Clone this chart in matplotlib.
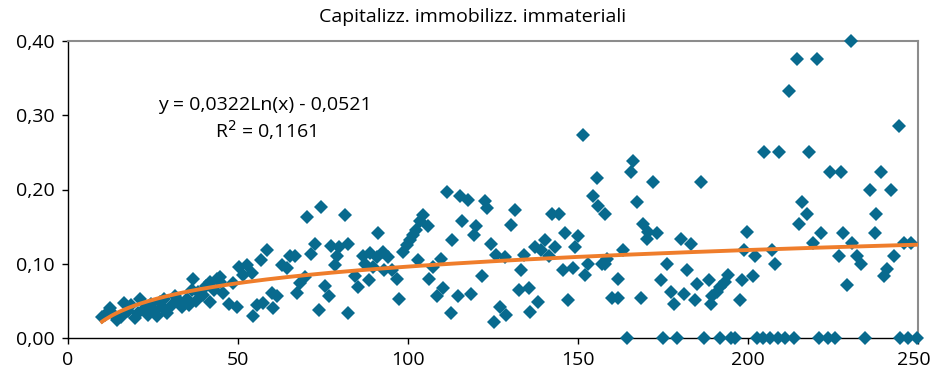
import numpy as np
import matplotlib.pyplot as plt
from matplotlib.ticker import FuncFormatter
from matplotlib.transforms import ScaledTranslation

title = 'Capitalizz. immobilizz. immateriali'

# scatter values
x_vals = [
    10.0, 10.9, 12.4, 13.0, 14.3, 15.5, 16.6, 17.7, 18.5, 19.7, 20.5, 21.2, 22.6, 23.6,
    24.5, 25.6, 26.3, 27.0, 27.6, 28.3, 29.0, 30.5, 31.5, 32.4, 33.6, 34.9, 35.5, 36.4,
    36.9, 37.5, 38.3, 39.8, 40.5, 41.8, 41.8, 42.8, 43.7, 44.7, 44.7, 45.7, 47.4, 48.6,
    49.6, 50.4, 51.4, 52.7, 54.0, 54.5, 55.5, 56.8, 57.4, 58.4, 59.9, 60.4, 61.4, 62.8,
    64.3, 65.3, 66.8, 67.3, 68.2, 69.7, 70.2, 71.4, 72.6, 73.8, 74.4, 75.6, 76.9, 77.3,
    78.5, 79.0, 79.8, 81.6, 82.4, 82.5, 84.4, 85.4, 86.9, 87.4, 88.5, 88.8, 89.8, 90.8,
    91.3, 92.7, 93.0, 94.2, 95.2, 96.7, 97.4, 98.6, 99.6, 100.6, 101.6, 102.5, 102.8, 103.5,
    104.5, 106.0, 106.2, 107.5, 108.4, 109.7, 110.4, 111.4, 112.6, 113.0, 114.6, 115.3, 116.0, 117.6,
    118.4, 119.4, 120.0, 121.7, 122.6, 123.3, 124.3, 125.3, 125.9, 127.1, 128.5, 128.8, 130.2, 131.5,
    132.5, 133.2, 134.1, 135.7, 135.9, 137.4, 138.3, 139.0, 140.3, 141.6, 142.3, 143.2, 144.5, 145.5,
    146.2, 147.2, 148.6, 149.1, 150.1, 151.4, 152.1, 153.0, 154.3, 155.5, 156.0, 157.0, 158.0, 158.0,
    158.4, 160.1, 161.7, 161.9, 163.3, 164.3, 165.6, 166.2, 167.3, 168.5, 169.0, 170.2, 170.7, 172.0,
    173.1, 174.4, 174.9, 176.1, 177.4, 178.3, 179.0, 180.2, 181.3, 182.0, 183.2, 184.4, 184.9, 186.1,
    187.2, 188.5, 189.1, 189.5, 190.8, 191.8, 191.8, 193.2, 194.2, 195.0, 196.2, 197.6, 198.1, 198.8,
    199.6, 201.5, 202.0, 202.6, 204.5, 204.8, 206.5, 207.2, 208.0, 208.8, 209.1, 211.0, 212.0, 213.4,
    214.4, 215.0, 216.0, 217.3, 217.8, 219.0, 220.2, 221.0, 221.4, 223.5, 224.2, 225.5, 226.7, 227.4,
    227.8, 229.0, 230.2, 230.7, 232.0, 233.1, 234.4, 236.0, 237.3, 237.7, 239.0, 240.0, 240.8, 242.0,
    243.0, 244.3, 244.7, 246.0, 247.0, 248.0, 249.7,
]
y_vals = [
    0.028, 0.031, 0.040, 0.033, 0.024, 0.028, 0.047, 0.036, 0.045, 0.027, 0.033, 0.053, 0.040, 0.031,
    0.046, 0.036, 0.030, 0.049, 0.042, 0.052, 0.033, 0.044, 0.056, 0.051, 0.042, 0.053, 0.045, 0.065,
    0.080, 0.050, 0.062, 0.058, 0.070, 0.048, 0.076, 0.064, 0.080, 0.076, 0.082, 0.060, 0.046, 0.074,
    0.042, 0.096, 0.085, 0.098, 0.087, 0.030, 0.044, 0.105, 0.047, 0.119, 0.060, 0.040, 0.056, 0.098,
    0.094, 0.110, 0.110, 0.061, 0.074, 0.082, 0.163, 0.113, 0.127, 0.038, 0.177, 0.070, 0.056, 0.124,
    0.098, 0.110, 0.123, 0.166, 0.127, 0.034, 0.083, 0.069, 0.110, 0.100, 0.078, 0.114, 0.096, 0.109,
    0.142, 0.116, 0.092, 0.109, 0.092, 0.080, 0.053, 0.116, 0.125, 0.132, 0.139, 0.145, 0.105, 0.157,
    0.165, 0.151, 0.080, 0.096, 0.057, 0.107, 0.067, 0.196, 0.033, 0.132, 0.057, 0.191, 0.157, 0.186,
    0.059, 0.139, 0.151, 0.083, 0.185, 0.175, 0.126, 0.022, 0.112, 0.042, 0.109, 0.031, 0.152, 0.172,
    0.065, 0.092, 0.112, 0.067, 0.035, 0.122, 0.049, 0.119, 0.132, 0.110, 0.167, 0.122, 0.167, 0.092,
    0.142, 0.051, 0.094, 0.122, 0.137, 0.274, 0.085, 0.100, 0.191, 0.215, 0.178, 0.099, 0.167, 0.100,
    0.107, 0.054, 0.054, 0.080, 0.119, 0.000, 0.224, 0.239, 0.183, 0.054, 0.153, 0.134, 0.143, 0.210,
    0.142, 0.078, 0.000, 0.100, 0.062, 0.046, 0.000, 0.133, 0.059, 0.091, 0.127, 0.051, 0.073, 0.210,
    0.000, 0.078, 0.046, 0.056, 0.062, 0.069, 0.000, 0.076, 0.085, 0.000, 0.000, 0.051, 0.078, 0.119,
    0.143, 0.083, 0.110, 0.000, 0.000, 0.250, 0.000, 0.119, 0.099, 0.000, 0.250, 0.000, 0.333, 0.000,
    0.376, 0.153, 0.183, 0.167, 0.250, 0.128, 0.376, 0.000, 0.142, 0.000, 0.223, 0.000, 0.110, 0.223,
    0.142, 0.072, 0.400, 0.128, 0.110, 0.099, 0.000, 0.199, 0.142, 0.167, 0.223, 0.083, 0.093, 0.199,
    0.110, 0.285, 0.000, 0.128, 0.000, 0.128, 0.000,
]

# logarithmic trendline coefficients, as printed on the chart
trend_a = 0.0322
trend_b = -0.0521
trend_label = 'y = 0,0322Ln(x) - 0,0521'
r2_label = '0,1161'

x_ticks = [0, 50, 100, 150, 200, 250]
y_ticks = [0.0, 0.1, 0.2, 0.3, 0.4]

plt.rcParams['font.family'] = ['Open Sans', 'DejaVu Sans']

fig = plt.figure(figsize=(9.33, 3.78), dpi=100)
ax = fig.add_axes([68 / 933, 1 - 338 / 378, 850 / 933, 297 / 378])

x = np.array(x_vals)
y = np.array(y_vals)
ax.plot(x, y, linestyle='none', marker='D', markersize=7.3,
        markerfacecolor='#086a8e', markeredgewidth=0, clip_on=False, zorder=3)

xs = np.sort(np.unique(x))
ax.plot(xs, trend_a * np.log(xs) + trend_b, color='#ef7d2b', lw=2.8, zorder=4)

ax.set_xlim(0, 250)
ax.set_ylim(0, 0.40)
ax.set_xticks(x_ticks)
ax.set_yticks(y_ticks)
ax.yaxis.set_major_formatter(FuncFormatter(lambda v, p: '{:.2f}'.format(v).replace('.', ',')))
ax.tick_params(direction='out', length=4.5, width=1, labelsize=14, color='black')
ax.tick_params(axis='x', pad=5)
ax.tick_params(axis='y', pad=5)

# nudge the last x label left so it stays inside the picture
last = ax.xaxis.get_major_ticks()[-1].label1
last.set_transform(last.get_transform() + ScaledTranslation(-4 / 100, 0, fig.dpi_scale_trans))

for s in ['left', 'bottom']:
    ax.spines[s].set_color('black')
    ax.spines[s].set_linewidth(1)
for s in ['top', 'right']:
    ax.spines[s].set_color('#8c8c8c')
    ax.spines[s].set_linewidth(1.5)

ax.text(58, 0.307, trend_label, ha='center', va='baseline', fontsize=14)
ax.text(58, 0.269, 'R$^2$ = ' + r2_label, ha='center', va='baseline', fontsize=14)

fig.text(473 / 933, 1 - 22 / 378, title, ha='center', va='baseline', fontsize=14)

fig.savefig('out.png', dpi=100)
